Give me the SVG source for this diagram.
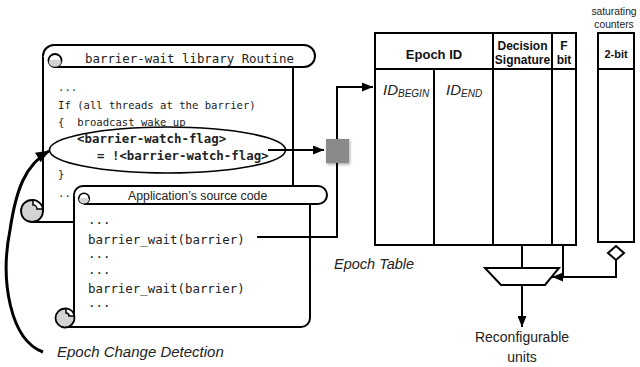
<svg xmlns="http://www.w3.org/2000/svg" width="640" height="367" viewBox="0 0 640 367">
  <style>
    .ln { fill: none; stroke: #000; stroke-width: 2; }
    .box { fill: #fff; stroke: #000; stroke-width: 2; }
    .curl { fill: #d3d3d3; stroke: #000; stroke-width: 1.8; }
    .notch { fill: #fff; stroke: #000; stroke-width: 1.5; }
    .mono { font-family: "DejaVu Sans Mono", "Liberation Mono", monospace; fill: #222; }
    .sans { font-family: "Liberation Sans", Arial, sans-serif; fill: #222; }
    .hdr { font-family: "Liberation Sans", Arial, sans-serif; font-weight: bold; fill: #111; text-anchor: middle; }
    .ital { font-family: "Liberation Sans", Arial, sans-serif; font-style: italic; fill: #222; }
  </style>
  <defs>
    <marker id="arrow" markerUnits="userSpaceOnUse" markerWidth="11" markerHeight="9" refX="11" refY="4.5" orient="auto">
      <path d="M0,0 L11,4.5 L0,9 Z" fill="#000"/>
    </marker>
    <marker id="arrow-lg" markerUnits="userSpaceOnUse" markerWidth="14" markerHeight="11" refX="13" refY="5.5" orient="auto">
      <path d="M0,0 L14,5.5 L0,11 Z" fill="#000"/>
    </marker>
    <filter id="soft" x="-30%" y="-30%" width="170%" height="170%">
      <feDropShadow dx="1" dy="1.5" stdDeviation="1.5" flood-color="#000" flood-opacity="0.35"/>
    </filter>
  </defs>

  <!-- barrier-wait library routine scroll -->
  <g id="library-routine">
    <path d="M43 56 V211 M293 67 V222 H32" class="ln"/>
    <path d="M43 56 A11 11 0 0 1 54 45 H304 A11 11 0 0 1 304 67 H55" class="box"/>
    <circle cx="55" cy="60.5" r="6.5" fill="#fff" stroke="#000" stroke-width="1.8"/>
    <path d="M48.6 61.5 A6.5 6.5 0 0 0 61.4 61.5 Q55 57.5 48.6 61.5 Z" fill="#d3d3d3"/>
    <circle cx="32" cy="211" r="11" class="curl"/>
    <path d="M33 200.05 A11 11 0 0 1 43 209 L37 209 A4 4 0 0 0 33 205 Z" class="notch"/>
    <text x="85" y="63" class="mono" font-size="12.4">barrier-wait library Routine</text>
    <text class="mono" font-size="10.6" xml:space="preserve"><tspan x="58" y="91">...</tspan><tspan x="58" y="109">If (all threads at the barrier)</tspan><tspan x="58" y="126">{  broadcast wake up</tspan><tspan x="58" y="178">}</tspan><tspan x="58" y="197">...</tspan></text>
    <text class="mono" font-size="12.4" font-weight="bold" fill="#111"><tspan x="77" y="143">&lt;barrier-watch-flag&gt;</tspan><tspan x="97" y="160">= !&lt;barrier-watch-flag&gt;</tspan></text>
    <ellipse cx="167.5" cy="150" rx="118" ry="23" fill="none" stroke="#000" stroke-width="1.6"/>
  </g>

  <!-- application source code scroll -->
  <g id="source-code">
    <path d="M74 204 H310 V318 A9 9 0 0 1 301 327 H74 Z" fill="#fff"/>
    <path d="M74 195 V318 M310 204 V318 A9 9 0 0 1 301 327 H65" class="ln"/>
    <path d="M74 195 A9 9 0 0 1 83 186 H318 A9 9 0 0 1 318 204 H84" class="box"/>
    <circle cx="84" cy="198.5" r="5.3" fill="#fff" stroke="#000" stroke-width="1.6"/>
    <path d="M78.8 199.3 A5.3 5.3 0 0 0 89.2 199.3 Q84 196 78.8 199.3 Z" fill="#d3d3d3"/>
    <circle cx="65" cy="318" r="9.5" class="curl"/>
    <path d="M66 308.55 A9.5 9.5 0 0 1 74.4 316 L69 316 A3 3 0 0 0 66 313 Z" class="notch"/>
    <text x="128" y="199.5" class="sans" font-size="12.3">Application’s source code</text>
    <text class="mono" font-size="12.4"><tspan x="88" y="224">...</tspan><tspan x="88" y="244">barrier_wait(barrier)</tspan><tspan x="88" y="258">...</tspan><tspan x="88" y="274">...</tspan><tspan x="88" y="293">barrier_wait(barrier)</tspan><tspan x="88" y="307">...</tspan></text>
  </g>

  <!-- connectors -->
  <g id="connectors">
    <path d="M43 352 C10 340 0 280 10 230 C16 190 25 165 49 151" fill="none" stroke="#000" stroke-width="3" marker-end="url(#arrow-lg)"/>
    <path d="M268 150 H324" class="ln" marker-end="url(#arrow)"/>
    <path d="M257 237 H337 V87 H373" class="ln" marker-end="url(#arrow)"/>
    <path d="M522 245 V268" class="ln"/>
    <path d="M563 245 V277" class="ln"/>
    <path d="M616 260 V277 H552" class="ln" marker-end="url(#arrow)"/>
    <path d="M522 285 V327" class="ln" marker-end="url(#arrow)"/>
  </g>

  <!-- watch-flag register -->
  <g id="watch-flag">
    <rect x="326" y="139" width="23" height="24" fill="#8a8a8a" filter="url(#soft)"/>
  </g>

  <!-- epoch table -->
  <g id="epoch-table">
    <rect x="375" y="33" width="201" height="212" class="box"/>
    <path d="M375 69 H576 M434 69 V245 M493 33 V245 M552 33 V245" class="ln"/>
    <text x="434" y="58.5" class="hdr" font-size="13">Epoch ID</text>
    <text class="hdr" font-size="12"><tspan x="522.5" y="50">Decision</tspan><tspan x="522.5" y="64">Signature</tspan></text>
    <text class="hdr" font-size="12"><tspan x="564" y="50">F</tspan><tspan x="564" y="64">bit</tspan></text>
    <text x="383" y="95" class="ital" font-size="15">ID<tspan font-size="10" dy="2">BEGIN</tspan></text>
    <text x="446" y="95" class="ital" font-size="15">ID<tspan font-size="10" dy="2">END</tspan></text>
    <text x="334" y="269" class="ital" font-size="14.5">Epoch Table</text>
  </g>

  <!-- saturating counters -->
  <g id="saturating-counters">
    <text class="sans" font-size="10.3" text-anchor="middle"><tspan x="614" y="15">saturating</tspan><tspan x="614" y="28">counters</tspan></text>
    <rect x="598" y="33" width="36" height="209" class="box"/>
    <path d="M598 69 H634" class="ln"/>
    <text x="616" y="58" class="hdr" font-size="11">2-bit</text>
    <path d="M616 246 L624 253 L616 260 L608 253 Z" class="box"/>
  </g>

  <!-- selector -->
  <g id="mux">
    <path d="M485 268 H559 L545 285 H501 Z" class="box"/>
  </g>

  <!-- reconfigurable units -->
  <g id="reconfigurable-units">
    <text class="sans" font-size="14" text-anchor="middle"><tspan x="522" y="342">Reconfigurable</tspan><tspan x="522" y="362">units</tspan></text>
  </g>

  <g id="epoch-change-label">
    <text x="57" y="357" class="ital" font-size="15">Epoch Change Detection</text>
  </g>
</svg>
